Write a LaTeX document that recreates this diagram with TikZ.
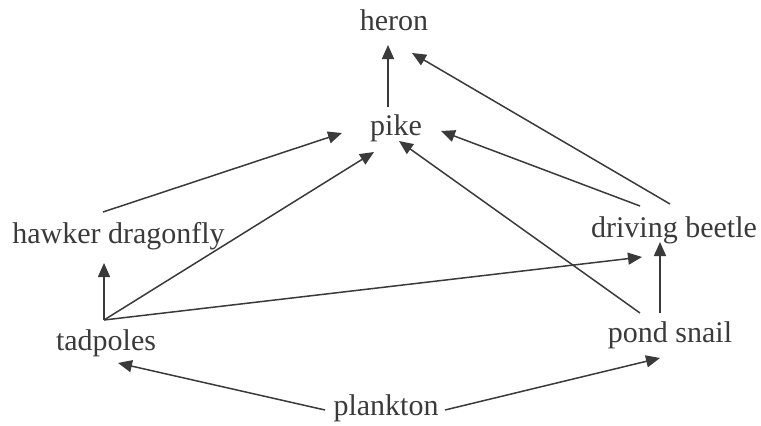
\documentclass[tikz,border=0pt]{standalone}
\usepackage{fontspec}
\setmainfont{Liberation Serif}
\usetikzlibrary{arrows.meta}
\definecolor{ink}{HTML}{3A3A3A}
\tikzset{
  species/.style={anchor=base, inner sep=0pt, text=ink, font=\fontsize{30}{32}\selectfont},
  feeds/.style={draw=ink, line width=1.5pt, -{Triangle[length=14pt,width=12pt]}},
}
\begin{document}
\begin{tikzpicture}[x=1pt, y=-1pt]
\useasboundingbox (0,0) rectangle (761,426);
% organisms
\node[species] (heron)  at (394,30)  {heron};
\node[species] (pike)   at (396,135) {pike};
\node[species] (hawk)   at (118.5,243) {hawker dragonfly};
\node[species] (beetle) at (674,237) {driving beetle};
\node[species] (tad)    at (106,350) {tadpoles};
\node[species] (snail)  at (670,342) {pond snail};
\node[species] (plank)  at (386,415) {plankton};
% who eats whom
\draw[feeds] ([shift={(-8,-28)}]pike.base) -- ([shift={(-6,15)}]heron.base);
\draw[feeds] ([shift={(-15.5,-31)}]hawk.base) -- ([shift={(-54,-2)}]pike.base);
\draw[feeds] ([shift={(-2,-30)}]tad.base) -- ([shift={(-22,17)}]pike.base);
\draw[feeds] ([shift={(-2,-30)}]tad.base) -- ([shift={(-14.5,20)}]hawk.base);
\draw[feeds] ([shift={(-2,-30)}]tad.base) -- ([shift={(-32,20)}]beetle.base);
\draw[feeds] ([shift={(-30,-29)}]snail.base) -- ([shift={(3,6)}]pike.base);
\draw[feeds] ([shift={(-10,-29)}]snail.base) -- ([shift={(-14,5)}]beetle.base);
\draw[feeds] ([shift={(-34,-31)}]beetle.base) -- ([shift={(45,-4)}]pike.base);
\draw[feeds] ([shift={(-4,-33)}]beetle.base) -- ([shift={(18,23)}]heron.base);
\draw[feeds] ([shift={(-61,-5)}]plank.base) -- ([shift={(12,13)}]tad.base);
\draw[feeds] ([shift={(59,-5)}]plank.base) -- ([shift={(-10,16)}]snail.base);
\end{tikzpicture}
\end{document}
